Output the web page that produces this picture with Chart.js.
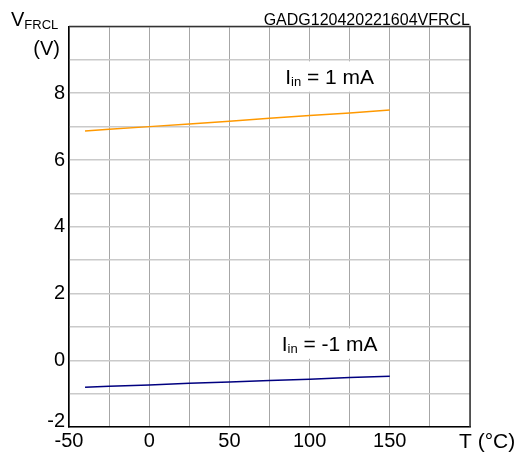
<!DOCTYPE html>
<html>
<head>
<meta charset="utf-8">
<script src="https://cdn.jsdelivr.net/npm/chart.js@4.4.0/dist/chart.umd.min.js"></script>
<style>
  html, body { margin: 0; padding: 0; background: #fff; }
  #wrap { width: 516px; height: 455px; }
</style>
</head>
<body>
<div id="wrap"><canvas id="chart" width="516" height="455"></canvas></div>
<script>
// temperature points (°C)
const temps = [-40, -25, 0, 25, 50, 75, 100, 125, 150];
// V_FRCL at Iin = 1 mA
const vPos = [6.87, 6.92, 7.0, 7.08, 7.16, 7.25, 7.33, 7.41, 7.5];
// V_FRCL at Iin = -1 mA
const vNeg = [-0.81, -0.78, -0.74, -0.69, -0.65, -0.61, -0.57, -0.52, -0.48];

const xLabels = [-50, 0, 50, 100, 150];
const yLabels = [0, 2, 4, 6, 8]; // -2 is drawn by hand, a bit raised like the original

const FONT = "'Liberation Sans', Arial, sans-serif";

function pts(ys) {
    return temps.map((t, i) => ({ x: t, y: ys[i] }));
}

// Функция для подписи с нижним индексом
function subText(ctx, parts, x, y, align) {
    let total = 0;
    parts.forEach(p => {
        ctx.font = p.size + 'px ' + FONT;
        p.w = ctx.measureText(p.text).width;
        total += p.w;
    });
    let cx = align === 'center' ? x - total / 2 : x;
    parts.forEach(p => {
        ctx.font = p.size + 'px ' + FONT;
        ctx.fillText(p.text, cx, y + (p.dy || 0));
        cx += p.w;
    });
}

const extras = {
    id: 'extras',
    beforeDatasetsDraw(chart) {
        const ctx = chart.ctx;
        const x = chart.scales.x, y = chart.scales.y;
        ctx.save();
        ctx.fillStyle = '#fff';
        // white boxes behind the labels
        [[8, 9], [0, 1]].forEach(r => {
            const l = x.getPixelForValue(75), rr = x.getPixelForValue(150);
            const t = y.getPixelForValue(r[1]), b = y.getPixelForValue(r[0]);
            ctx.fillRect(l + 1.5, t + 1.5, rr - l - 3, b - t - 3);
        });
        ctx.restore();
    },
    afterDraw(chart) {
        const ctx = chart.ctx;
        const a = chart.chartArea;
        const x = chart.scales.x, y = chart.scales.y;
        ctx.save();
        ctx.strokeStyle = '#333';
        ctx.lineWidth = 1.5;
        ctx.beginPath();
        ctx.moveTo(a.left, a.top);
        ctx.lineTo(a.right, a.top);
        ctx.lineTo(a.right, a.bottom);
        ctx.stroke();

        ctx.fillStyle = '#000';
        ctx.textBaseline = 'alphabetic';

        // title
        ctx.font = '16px ' + FONT;
        ctx.textAlign = 'right';
        ctx.fillText('GADG120420221604VFRCL', a.right, 25);

        // lowest y label
        ctx.font = '20px ' + FONT;
        ctx.fillText('-2', 65, 427);

        // y axis title
        ctx.textAlign = 'left';
        subText(ctx, [{ text: 'V', size: 20 }, { text: 'FRCL', size: 13, dy: 3 }], 11, 26, 'left');
        ctx.font = '20px ' + FONT;
        ctx.textAlign = 'right';
        ctx.fillText('(V)', 60, 55);

        // x axis title
        ctx.textAlign = 'left';
        ctx.font = '21px ' + FONT;
        ctx.fillText('T (°C)', 459, 448);

        // current labels
        const cx = (x.getPixelForValue(75) + x.getPixelForValue(150)) / 2;
        subText(ctx, [{ text: 'I', size: 21 }, { text: 'in', size: 13, dy: 2 }, { text: ' = 1 mA', size: 21 }],
            cx, (y.getPixelForValue(8) + y.getPixelForValue(9)) / 2 + 7.5, 'center');
        subText(ctx, [{ text: 'I', size: 21 }, { text: 'in', size: 13, dy: 2 }, { text: ' = -1 mA', size: 21 }],
            cx, (y.getPixelForValue(0) + y.getPixelForValue(1)) / 2 + 7.5, 'center');
        ctx.restore();
    }
};

new Chart(document.getElementById('chart'), {
    type: 'scatter',
    data: {
        datasets: [{
            data: pts(vPos),
            showLine: true,
            borderColor: '#ff9900',
            borderWidth: 1.5,
            pointRadius: 0
        }, {
            data: pts(vNeg),
            showLine: true,
            borderColor: '#000080',
            borderWidth: 1.5,
            pointRadius: 0
        }]
    },
    options: {
        responsive: false,
        animation: false,
        layout: { padding: { top: 26.5, right: 46, left: 0, bottom: 0 } },
        plugins: { legend: { display: false }, tooltip: { enabled: false } },
        scales: {
            x: {
                type: 'linear',
                min: -50,
                max: 200,
                afterFit: s => { s.height = 28; },
                grid: { color: '#a6a6a6', lineWidth: 1, drawTicks: false },
                border: { color: '#000', width: 1.5 },
                ticks: {
                    stepSize: 25,
                    padding: 2,
                    maxRotation: 0,
                    autoSkip: false,
                    color: '#000',
                    font: { family: FONT, size: 20 },
                    callback: v => xLabels.includes(v) ? String(v) : ''
                }
            },
            y: {
                min: -2,
                max: 10,
                afterFit: s => { s.width = 69; },
                grid: { color: '#cacaca', lineWidth: 1.5, drawTicks: false },
                border: { color: '#000', width: 1.5 },
                ticks: {
                    stepSize: 1,
                    padding: 4,
                    autoSkip: false,
                    color: '#000',
                    font: { family: FONT, size: 20 },
                    callback: v => yLabels.includes(v) ? String(v) : ''
                }
            }
        }
    },
    plugins: [extras]
});
</script>
</body>
</html>
